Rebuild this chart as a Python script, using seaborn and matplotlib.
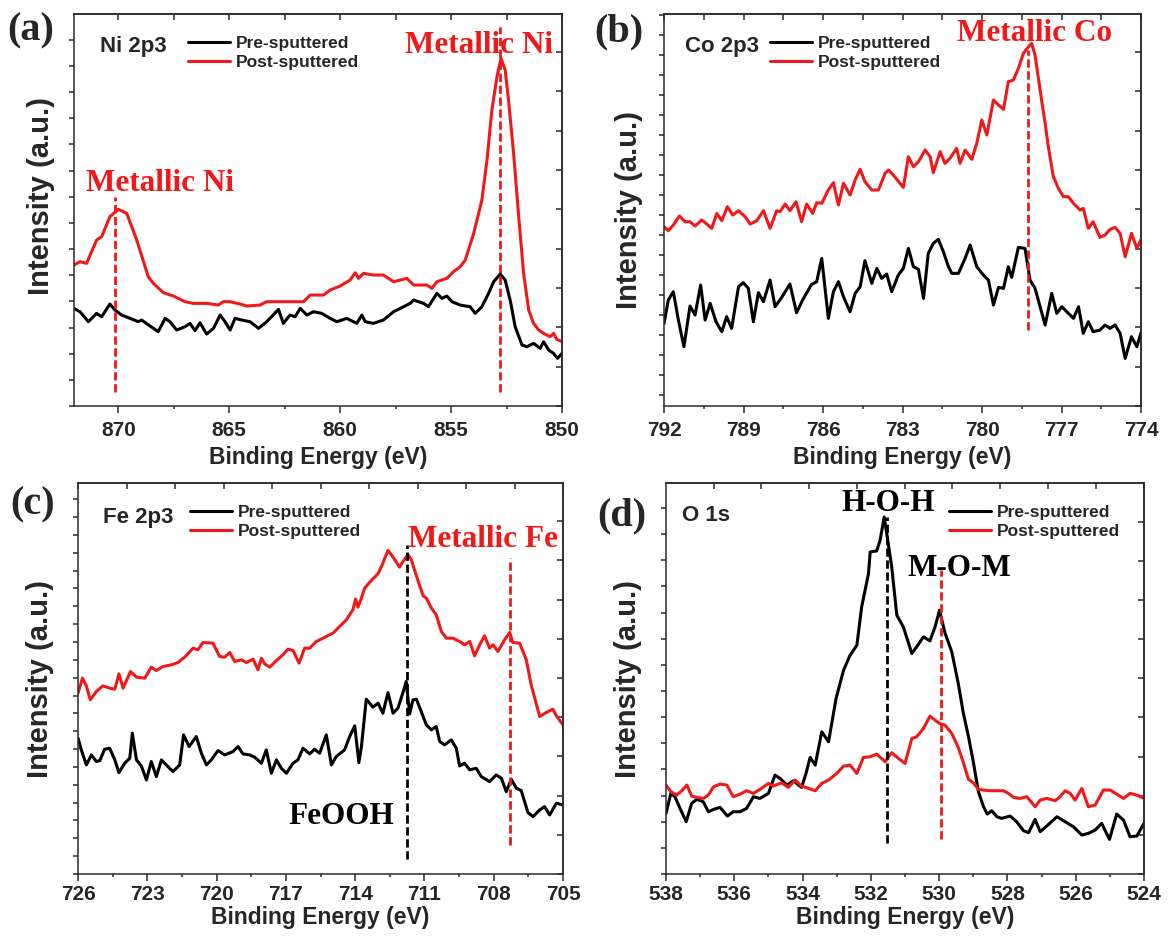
import numpy as np
import pandas as pd
import matplotlib
matplotlib.use('Agg')
import matplotlib.pyplot as plt
import seaborn as sns
from matplotlib.ticker import MultipleLocator

# ---- (a) Ni 2p3 ----
ni_pre_be = [872.00, 871.73, 871.35, 870.98, 870.75, 870.38, 870.15, 869.85, 869.47, 869.10,
             868.95, 868.57, 868.20, 867.89, 867.67, 867.37, 866.99, 866.77, 866.54, 866.32,
             866.02, 865.71, 865.41, 865.19, 864.96, 864.74, 864.44, 864.06, 863.68, 863.31,
             862.78, 862.56, 862.26, 862.03, 861.80, 861.50, 861.20, 860.83, 860.45, 860.15,
             859.70, 859.25, 859.02, 858.87, 858.50, 858.05, 857.59, 857.29, 856.84, 856.69,
             856.47, 856.24, 856.02, 855.64, 855.41, 855.19, 854.96, 854.59, 854.14, 853.91,
             853.61, 853.31, 853.08, 852.78, 852.56, 852.32, 852.11, 851.80, 851.58, 851.28,
             850.98, 850.83, 850.60, 850.38, 850.20, 850.00]
ni_pre_int = [293, 283, 253, 278, 268, 306, 288, 273, 263, 253,
              258, 240, 223, 263, 253, 228, 238, 248, 226, 250,
              216, 233, 273, 253, 228, 263, 258, 253, 233, 253,
              290, 248, 273, 268, 293, 273, 283, 278, 263, 253,
              263, 248, 273, 253, 248, 258, 283, 293, 308, 318,
              313, 308, 298, 338, 323, 330, 313, 303, 298, 278,
              298, 338, 373, 396, 378, 313, 238, 183, 178, 188,
              173, 193, 168, 158, 143, 158]
ni_post_be = [872.00, 871.73, 871.43, 870.98, 870.75, 870.38, 870.00, 869.62, 869.17, 868.65,
              868.42, 867.97, 867.52, 866.99, 866.62, 866.02, 865.49, 865.26, 864.96, 864.51,
              864.21, 863.61, 863.31, 862.86, 862.26, 861.65, 861.35, 860.75, 860.45, 860.00,
              859.55, 859.32, 859.17, 858.95, 858.50, 858.05, 857.59, 856.99, 856.69, 856.09,
              855.86, 855.64, 855.19, 854.89, 854.59, 854.36, 853.98, 853.61, 853.38, 853.16,
              852.93, 852.75, 852.56, 852.41, 852.18, 851.95, 851.73, 851.50, 851.28, 851.05,
              850.83, 850.53, 850.38, 850.23, 850.00]
ni_post_int = [423, 433, 428, 498, 508, 568, 590, 578, 498, 388,
               368, 340, 330, 313, 308, 308, 303, 313, 313, 306,
               300, 303, 313, 313, 313, 313, 333, 333, 348, 360,
               378, 400, 383, 398, 393, 393, 373, 383, 363, 363,
               353, 373, 383, 403, 418, 438, 518, 618, 738, 888,
               988, 1043, 1008, 918, 758, 568, 398, 288, 248, 228,
               218, 208, 218, 200, 193]
ni_mark_be = [870.15, 852.78]
ni_mark_lo = [43, 43]
ni_mark_hi = [628, 1138]

# ---- (b) Co 2p3 ----
co_pre_be = [792.00, 791.84, 791.65, 791.46, 791.25, 791.02, 790.83, 790.62, 790.45, 790.26,
             790.04, 789.82, 789.64, 789.45, 789.19, 789.01, 788.82, 788.63, 788.44, 788.25,
             788.00, 787.81, 787.56, 787.25, 787.00, 786.74, 786.43, 786.24, 786.05, 785.80,
             785.61, 785.42, 785.23, 784.98, 784.79, 784.60, 784.42, 784.16, 783.97, 783.79,
             783.60, 783.41, 783.16, 782.97, 782.78, 782.59, 782.40, 782.21, 782.03, 781.84,
             781.65, 781.46, 781.27, 781.14, 780.89, 780.64, 780.45, 780.20, 779.95, 779.76,
             779.57, 779.38, 779.19, 779.01, 778.88, 778.63, 778.38, 778.19, 778.00, 777.81,
             777.62, 777.37, 777.18, 776.99, 776.74, 776.55, 776.36, 776.18, 775.99, 775.81,
             775.55, 775.36, 775.17, 774.98, 774.79, 774.60, 774.36, 774.16, 774.00]
co_pre_int = [248, 318, 343, 258, 178, 300, 273, 363, 258, 308,
              253, 223, 268, 233, 358, 370, 353, 253, 340, 313,
              378, 298, 326, 366, 280, 323, 365, 373, 443, 263,
              343, 373, 328, 283, 338, 358, 436, 368, 413, 383,
              396, 343, 393, 413, 473, 418, 410, 323, 458, 488,
              500, 463, 418, 398, 398, 443, 483, 418, 393, 378,
              303, 356, 353, 418, 386, 476, 473, 378, 353, 298,
              243, 338, 278, 298, 278, 263, 298, 218, 253, 223,
              228, 243, 233, 243, 218, 143, 208, 178, 220]
co_post_be = [792.00, 791.84, 791.65, 791.42, 791.21, 791.02, 790.83, 790.58, 790.39, 790.20,
              790.01, 789.82, 789.61, 789.41, 789.19, 788.94, 788.75, 788.50, 788.25, 788.00,
              787.75, 787.62, 787.43, 787.25, 787.02, 786.81, 786.62, 786.39, 786.24, 786.05,
              785.80, 785.61, 785.42, 785.23, 784.98, 784.79, 784.60, 784.42, 784.16, 783.91,
              783.66, 783.53, 783.35, 782.97, 782.78, 782.59, 782.40, 782.15, 781.96, 781.84,
              781.58, 781.40, 781.21, 780.96, 780.83, 780.64, 780.39, 780.20, 780.01, 779.82,
              779.57, 779.38, 779.19, 779.01, 778.82, 778.63, 778.44, 778.25, 778.13, 778.00,
              777.81, 777.62, 777.50, 777.31, 777.12, 776.93, 776.74, 776.55, 776.30, 776.18,
              775.99, 775.81, 775.55, 775.36, 775.17, 774.98, 774.79, 774.60, 774.36, 774.16,
              774.00]
co_post_int = [538, 526, 543, 570, 553, 553, 540, 558, 546, 533,
               578, 556, 598, 573, 586, 568, 546, 556, 586, 533,
               586, 583, 606, 586, 613, 553, 606, 578, 610, 608,
               648, 670, 603, 668, 633, 678, 710, 673, 648, 648,
               698, 708, 693, 656, 748, 718, 733, 768, 748, 700,
               763, 728, 743, 773, 728, 768, 740, 788, 858, 813,
               918, 903, 890, 973, 978, 1013, 1058, 1078, 1088, 1053,
               948, 848, 778, 688, 653, 628, 628, 608, 588, 593,
               533, 553, 506, 513, 530, 536, 518, 448, 518, 473,
               500]
co_mark_be = [778.28]
co_mark_lo = [228]
co_mark_hi = [1068]

# ---- (c) Fe 2p3 ----
fe_pre_be = [726.00, 725.86, 725.64, 725.42, 725.21, 725.06, 724.85, 724.63, 724.41, 724.23,
             723.98, 723.76, 723.65, 723.47, 723.26, 723.04, 722.83, 722.61, 722.39, 722.18,
             721.89, 721.60, 721.43, 721.19, 720.88, 720.66, 720.44, 720.23, 719.94, 719.65,
             719.29, 719.07, 718.86, 718.57, 718.35, 718.06, 717.85, 717.63, 717.41, 717.20,
             716.98, 716.69, 716.48, 716.26, 715.97, 715.76, 715.54, 715.25, 715.03, 714.82,
             714.46, 714.24, 714.02, 713.84, 713.73, 713.52, 713.23, 713.01, 712.80, 712.58,
             712.36, 712.15, 711.93, 711.79, 711.64, 711.50, 711.35, 711.14, 710.92, 710.70,
             710.49, 710.34, 710.13, 709.84, 709.62, 709.48, 709.26, 709.04, 708.76, 708.54,
             708.18, 707.89, 707.67, 707.46, 707.24, 707.02, 706.81, 706.52, 706.30, 706.01,
             705.80, 705.58, 705.29, 705.00]
fe_pre_int = [407, 372, 327, 357, 337, 340, 374, 377, 342, 304,
              332, 347, 422, 342, 324, 282, 337, 292, 342, 327,
              307, 327, 417, 382, 412, 362, 327, 342, 370, 357,
              367, 382, 360, 357, 350, 332, 372, 302, 342, 317,
              302, 332, 342, 377, 360, 374, 362, 417, 327, 352,
              372, 412, 444, 334, 382, 524, 500, 512, 482, 544,
              482, 497, 544, 577, 480, 522, 524, 487, 447, 432,
              442, 397, 387, 402, 377, 324, 332, 312, 317, 292,
              277, 297, 287, 247, 284, 257, 250, 184, 172, 192,
              202, 177, 212, 207]
fe_post_be = [726.00, 725.81, 725.64, 725.47, 725.21, 724.92, 724.63, 724.41, 724.23, 724.05,
              723.73, 723.47, 723.11, 722.83, 722.61, 722.32, 721.96, 721.67, 721.38, 721.02,
              720.81, 720.59, 720.16, 719.87, 719.65, 719.43, 719.22, 718.93, 718.71, 718.42,
              718.21, 718.06, 717.92, 717.70, 717.41, 717.13, 716.91, 716.69, 716.43, 716.19,
              715.97, 715.68, 715.39, 715.11, 714.96, 714.67, 714.38, 714.10, 713.98, 713.88,
              713.73, 713.59, 713.30, 713.01, 712.83, 712.58, 712.36, 712.08, 711.93, 711.71,
              711.57, 711.35, 711.06, 710.92, 710.70, 710.49, 710.27, 710.05, 709.77, 709.48,
              709.26, 709.04, 708.83, 708.61, 708.40, 708.18, 708.03, 707.82, 707.53, 707.31,
              707.17, 706.88, 706.59, 706.38, 706.01, 705.73, 705.44, 705.29, 705.00]
fe_post_int = [542, 587, 564, 522, 547, 564, 557, 554, 600, 557,
               607, 590, 587, 620, 610, 622, 627, 634, 650, 677,
               672, 694, 692, 652, 650, 664, 637, 642, 634, 644,
               612, 647, 630, 620, 640, 657, 674, 670, 632, 677,
               677, 697, 707, 717, 722, 742, 762, 792, 824, 800,
               827, 857, 880, 900, 927, 970, 950, 920, 937, 957,
               942, 894, 834, 827, 797, 777, 727, 707, 707, 697,
               687, 697, 654, 687, 714, 677, 687, 667, 702, 724,
               694, 692, 642, 567, 472, 484, 494, 474, 447]
fe_mark_be = [711.74, 707.31]
fe_mark_lo = [44, 87]
fe_mark_hi = [987, 947]

# ---- (d) O 1s ----
o_pre_be = [538.00, 537.86, 537.74, 537.59, 537.41, 537.25, 537.10, 536.91, 536.76, 536.61,
            536.42, 536.20, 536.03, 535.83, 535.64, 535.44, 535.25, 535.00, 534.81, 534.66,
            534.46, 534.27, 534.03, 533.90, 533.78, 533.63, 533.44, 533.24, 533.02, 532.80,
            532.61, 532.41, 532.27, 532.07, 532.02, 531.83, 531.73, 531.61, 531.52, 531.39,
            531.24, 531.05, 530.80, 530.66, 530.46, 530.27, 530.12, 529.99, 529.83, 529.63,
            529.44, 529.29, 529.14, 529.00, 528.85, 528.70, 528.59, 528.46, 528.31, 528.17,
            527.92, 527.73, 527.53, 527.38, 527.19, 527.04, 526.85, 526.55, 526.31, 526.07,
            525.82, 525.63, 525.43, 525.24, 525.01, 524.80, 524.60, 524.41, 524.21, 524.00]
o_pre_int = [182, 242, 232, 197, 157, 212, 224, 217, 187, 194,
             200, 174, 187, 187, 197, 232, 227, 242, 297, 287,
             267, 280, 260, 302, 350, 327, 427, 397, 527, 612,
             657, 687, 802, 902, 967, 970, 1002, 1072, 1012, 922,
             777, 742, 662, 682, 712, 700, 742, 792, 724, 667,
             572, 482, 412, 337, 247, 202, 180, 190, 172, 167,
             174, 157, 130, 124, 164, 127, 144, 172, 157, 142,
             117, 122, 132, 152, 104, 180, 162, 112, 114, 152]
o_post_be = [538.00, 537.86, 537.69, 537.54, 537.39, 537.25, 537.10, 536.91, 536.76, 536.61,
             536.42, 536.22, 536.03, 535.83, 535.64, 535.44, 535.25, 535.00, 534.86, 534.61,
             534.42, 534.22, 534.03, 533.83, 533.63, 533.44, 533.24, 533.00, 532.80, 532.61,
             532.41, 532.22, 532.02, 531.83, 531.58, 531.39, 531.19, 531.00, 530.80, 530.66,
             530.46, 530.27, 530.12, 529.99, 529.83, 529.63, 529.44, 529.29, 529.14, 529.00,
             528.85, 528.70, 528.51, 528.31, 528.12, 527.97, 527.82, 527.63, 527.43, 527.19,
             527.04, 526.85, 526.60, 526.46, 526.31, 526.16, 526.02, 525.82, 525.63, 525.43,
             525.19, 524.99, 524.80, 524.60, 524.41, 524.21, 524.00]
o_post_int = [267, 247, 237, 250, 267, 234, 230, 227, 237, 262,
              270, 267, 232, 240, 250, 242, 254, 272, 264, 274,
              260, 282, 264, 257, 250, 272, 282, 302, 324, 327,
              302, 350, 352, 360, 337, 364, 347, 332, 407, 412,
              437, 474, 462, 452, 447, 422, 380, 334, 284, 274,
              254, 252, 250, 250, 250, 242, 230, 227, 232, 202,
              222, 227, 220, 232, 250, 242, 222, 257, 202, 207,
              252, 252, 240, 227, 242, 237, 227]
o_mark_be = [531.54, 529.95]
o_mark_lo = [92, 104]
o_mark_hi = [1072, 912]

RED = '#f01818'
SERIF = ['Liberation Serif', 'DejaVu Serif']
SPINE = '#2a2a2a'

sns.set_style('ticks')
plt.rcParams['font.family'] = ['Liberation Sans', 'DejaVu Sans']
plt.rcParams['font.weight'] = 'bold'
plt.rcParams['axes.labelweight'] = 'bold'

fig = plt.figure(figsize=(11.72, 9.41), dpi=100)
ax_a = fig.add_axes([0.0631, 0.5685, 0.4164, 0.4166])
ax_b = fig.add_axes([0.5666, 0.5685, 0.4070, 0.4166])
ax_c = fig.add_axes([0.0666, 0.0712, 0.4138, 0.4155])
ax_d = fig.add_axes([0.5683, 0.0712, 0.4078, 0.4155])


def draw(ax, pre_be, pre_int, post_be, post_int):
    pre = pd.DataFrame({'be': pre_be, 'intensity': pre_int})
    post = pd.DataFrame({'be': post_be, 'intensity': post_int})
    sns.lineplot(data=pre, x='be', y='intensity', color='black', linewidth=2.2,
                 sort=False, estimator=None, label='Pre-sputtered', ax=ax)
    sns.lineplot(data=post, x='be', y='intensity', color=RED, linewidth=2.2,
                 sort=False, estimator=None, label='Post-sputtered', ax=ax)


def marks(ax, be, lo, hi, colors):
    for x, y0, y1, c in zip(be, lo, hi, colors):
        ax.vlines(x, y0, y1, colors=c, linestyles=(0, (3, 1.3)), linewidth=2)


def frame(ax, xlim, ymax, xmaj, xmin, left_step, left_off, top_step, top_off, right_step, pad):
    ax.set_xlim(*xlim)
    ax.set_ylim(0, ymax)
    ax.xaxis.set_major_locator(MultipleLocator(xmaj))
    ax.xaxis.set_minor_locator(MultipleLocator(xmin))
    ax.yaxis.set_major_locator(MultipleLocator(left_step, left_off))
    ax.tick_params(axis='x', which='major', direction='out', length=5, width=1.1,
                   labelsize=15, pad=pad, top=False, color=SPINE)
    ax.tick_params(axis='x', which='minor', direction='out', length=2.5, width=1.1,
                   top=False, color=SPINE)
    ax.tick_params(axis='y', which='major', direction='out', length=3.5, width=1.1,
                   labelleft=False, right=False, color=SPINE)
    for s in ax.spines.values():
        s.set_linewidth(1.1)
        s.set_color(SPINE)
    top = ax.secondary_xaxis('top')
    top.xaxis.set_major_locator(MultipleLocator(top_step, top_off))
    top.tick_params(direction='in', length=4, width=1.1, labeltop=False, color=SPINE)
    top.spines['top'].set_color(SPINE)
    top.spines['top'].set_linewidth(1.1)
    right = ax.secondary_yaxis('right')
    right.yaxis.set_major_locator(MultipleLocator(right_step))
    right.tick_params(direction='in', length=4, width=1.1, labelright=False, color=SPINE)
    right.spines['right'].set_color(SPINE)
    right.spines['right'].set_linewidth(1.1)
    ax.set_xlabel('Binding Energy (eV)', fontsize=16.5, fontweight='bold')
    ax.set_ylabel('Intensity (a.u.)', fontsize=21, fontweight='bold')


def legend(ax, x, loc='upper left'):
    ax.legend(loc=loc, bbox_to_anchor=(x, 0.944), frameon=False,
              prop={'size': 12.5, 'weight': 'bold'}, handlelength=2.4,
              handletextpad=0.35, labelspacing=0.2, borderpad=0, borderaxespad=0)


# (a)
draw(ax_a, ni_pre_be, ni_pre_int, ni_post_be, ni_post_int)
marks(ax_a, ni_mark_be, ni_mark_lo, ni_mark_hi, [RED, RED])
frame(ax_a, (872, 850), 1176, 5, 2.5, 78.5, 0, 2.5, 0, 118, 6)
legend(ax_a, 0.234)
ax_a.text(0.053, 0.916, 'Ni 2p3', transform=ax_a.transAxes, fontsize=16, va='center')
ax_a.text(868.1, 668, 'Metallic Ni', color=RED, family=SERIF, fontsize=22.5,
          fontweight='bold', ha='center', va='center')
ax_a.text(853.76, 1083, 'Metallic Ni', color=RED, family=SERIF, fontsize=22.5,
          fontweight='bold', ha='center', va='center')
ax_a.xaxis.labelpad = 4
ax_a.yaxis.set_label_coords(-0.038, 0.535)

# (b)
draw(ax_b, co_pre_be, co_pre_int, co_post_be, co_post_int)
marks(ax_b, co_mark_be, co_mark_lo, co_mark_hi, [RED])
frame(ax_b, (792, 774), 1176, 3, 1.5, 60, 33, 1.5, 0, 118, 6)
legend(ax_b, 0.222)
ax_b.text(0.044, 0.916, 'Co 2p3', transform=ax_b.transAxes, fontsize=16, va='center')
ax_b.text(778.0, 1118, 'Metallic Co', color=RED, family=SERIF, fontsize=22.5,
          fontweight='bold', ha='center', va='center')
ax_b.xaxis.labelpad = 4
ax_b.yaxis.set_label_coords(-0.045, 0.5)

# (c)
draw(ax_c, fe_pre_be, fe_pre_int, fe_post_be, fe_post_int)
marks(ax_c, fe_mark_be, fe_mark_lo, fe_mark_hi, ['black', RED])
frame(ax_c, (726, 705), 1172, 3, 1.5, 53.5, 0, 2.1, 1.5, 117.5, 3)
legend(ax_c, 0.231)
ax_c.text(0.052, 0.913, 'Fe 2p3', transform=ax_c.transAxes, fontsize=16, va='center')
ax_c.text(708.47, 1002, 'Metallic Fe', color=RED, family=SERIF, fontsize=22.5,
          fontweight='bold', ha='center', va='center')
ax_c.text(714.6, 172, 'FeOOH', color='black', family=SERIF, fontsize=22.5,
          fontweight='bold', ha='center', va='center')
ax_c.xaxis.labelpad = 1
ax_c.yaxis.set_label_coords(-0.05, 0.5)

# (d)
draw(ax_d, o_pre_be, o_pre_int, o_post_be, o_post_int)
marks(ax_d, o_mark_be, o_mark_lo, o_mark_hi, ['black', RED])
frame(ax_d, (538, 524), 1174, 2, 1, 78.5, 0, 1.4, 0.41, 117.5, 3)
legend(ax_d, 0.95, loc='upper right')
ax_d.text(0.033, 0.918, 'O 1s', transform=ax_d.transAxes, fontsize=16, va='center')
ax_d.text(531.5, 1112, 'H-O-H', color='black', family=SERIF, fontsize=22.5,
          fontweight='bold', ha='center', va='center')
ax_d.text(529.4, 917, 'M-O-M', color='black', family=SERIF, fontsize=22.5,
          fontweight='bold', ha='center', va='center')
ax_d.xaxis.labelpad = 1
ax_d.yaxis.set_label_coords(-0.05, 0.5)

# panel letters
for x, y, s in [(0.006, 0.967, '(a)'), (0.507, 0.966, '(b)'),
                (0.0085, 0.4633, '(c)'), (0.510, 0.4516, '(d)')]:
    fig.text(x, y, s, family=SERIF, fontsize=29, fontweight='bold', va='center', ha='left')

fig.savefig('out.png', dpi=100)
